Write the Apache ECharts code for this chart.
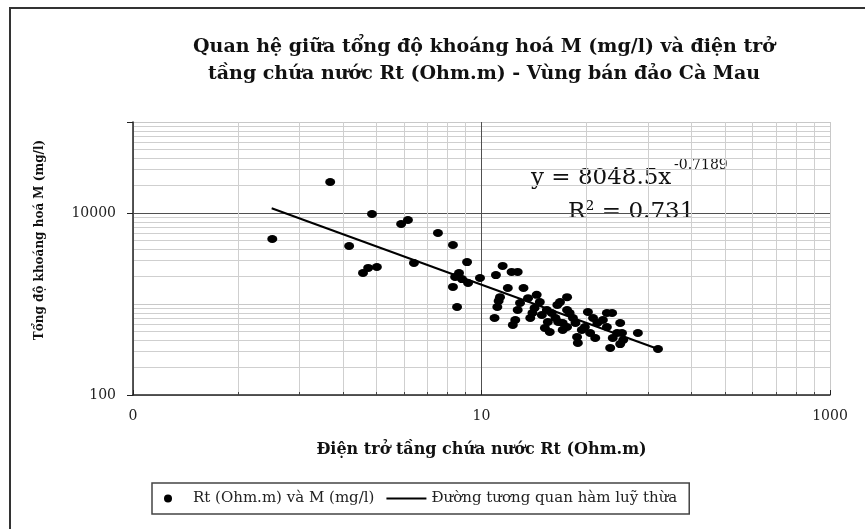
<!DOCTYPE html>
<html>
<head>
<meta charset="utf-8">
<script src="https://cdn.jsdelivr.net/npm/echarts@6/dist/echarts.min.js"></script>
<style>
html,body{margin:0;padding:0;background:#fff}
#chart{width:865px;height:529px}
</style>
</head>
<body>
<div id="chart"></div>
<script>
var titleLines=['Quan hệ giữa tổng độ khoáng hoá M (mg/l) và điện trở','tầng chứa nước Rt (Ohm.m) - Vùng bán đảo Cà Mau'];
var xName='Điện trở tầng chứa nước Rt (Ohm.m)';
var yName='Tổng độ khoáng hoá M (mg/l)';
var seriesNames=['Rt (Ohm.m) và M (mg/l)','Đường tương quan hàm luỹ thừa'];
var xTickValues=[1,10,100];
var xTickLabels=['0','10','1000'];
var yTickValues=[100,10000];
var yTickLabels=['100','10000'];
// Rt (Ohm.m) va M (mg/l), doc tu hinh
var rtValues=[2.51,3.68,4.17,4.57,4.73,5.01,4.85,5.88,6.15,6.40,
	7.50,8.28,9.09,8.62,8.40,8.79,9.15,8.28,8.51,9.90,
	11.0,11.5,12.2,12.7,11.9,13.2,11.3,11.2,11.1,10.9,
	12.7,12.5,12.3,13.6,14.4,14.7,14.2,14.0,14.9,15.4,
	15.9,15.2,15.7,16.5,16.8,16.6,16.3,17.1,17.6,17.6,
	17.9,18.3,17.1,17.6,18.8,18.9,19.4,20.2,20.9,21.5,
	21.2,19.8,22.9,23.7,22.9,23.4,25.0,25.3,25.5,24.5,
	28.1,32.1,23.8,25.0,13.8,12.9,15.5,18.6,20.5,22.3];
var mValues=[5180,21900,4340,2190,2490,2550,9750,7570,8380,2820,
	6030,4450,2890,2190,1980,1880,1700,1540,927,1930,
	2080,2620,2250,2250,1500,1500,1190,1080,927,702,
	859,667,588,1160,1260,1050,904,796,757,859,
	796,545,492,975,1050,634,702,518,1190,859,
	796,702,618,559,434,373,518,817,702,618,
	423,559,796,796,559,329,618,480,402,480,
	480,320,423,363,702,1025,634,618,480,667];
// duong tuong quan: hai dau mut
var trendRt=[2.50,32.1];
var trendM=[11260,320];
var equationText='y = 8048.5x';
var equationExp='-0.7189';
var r2Text='R² = 0.731';

function tickText(v,values,labels){
	for(var i=0;i<values.length;i++){
		if(Math.abs(Math.log(v)-Math.log(values[i]))<1e-6){
			return labels[i];
		}
	}
	return '';
}

var points=[];
for(var i=0;i<rtValues.length;i++){
	points.push([rtValues[i],mValues[i]]);
}
var trend=[];
for(var j=0;j<trendRt.length;j++){
	trend.push([trendRt[j],trendM[j]]);
}

var serif='DejaVu Serif';
var myChart=echarts.init(document.getElementById('chart'));
var option={
	backgroundColor:'#fff',
	animation:false,
	title:{
		text:titleLines.join('\n'),
		left:479,
		top:29,
		textAlign:'center',
		textStyle:{
			fontFamily:serif,
			fontWeight:'bold',
			fontSize:19,
			lineHeight:27,
			color:'#111'
		}
	},
	grid:{left:133,top:122,right:35,bottom:134},
	legend:{
		left:152,
		top:483,
		data:[
			{name:seriesNames[0],icon:'circle'},
			{name:seriesNames[1],icon:'path://M0,0L40,0L40,2L0,2Z'}
		],
		itemWidth:40,
		itemHeight:8,
		itemGap:12,
		padding:[8,12],
		borderColor:'#444',
		borderWidth:1.5,
		textStyle:{fontFamily:serif,fontSize:15,color:'#222'}
	},
	xAxis:{
		type:'log',
		logBase:10,
		min:1,
		max:100,
		name:xName,
		nameLocation:'middle',
		nameGap:47,
		nameTextStyle:{fontFamily:serif,fontWeight:'bold',fontSize:16,color:'#111'},
		axisLine:{lineStyle:{color:'#222',width:1.5}},
		axisTick:{show:true,inside:true,length:5,lineStyle:{color:'#222'}},
		minorTick:{show:true,splitNumber:9,length:3,lineStyle:{color:'#444'}},
		axisLabel:{
			margin:14,
			fontFamily:serif,
			fontSize:14,
			color:'#222',
			formatter:function(v){return tickText(v,xTickValues,xTickLabels);}
		},
		splitLine:{show:true,lineStyle:{color:['#c8c8c8','#505050','#c8c8c8'],width:1}},
		minorSplitLine:{show:true,lineStyle:{color:'#cfcfcf',width:1}}
	},
	yAxis:[
		{
			type:'log',
			logBase:10,
			min:100,
			max:100000,
			axisLine:{lineStyle:{color:'#222',width:1.5}},
			axisTick:{show:false},
			minorTick:{show:false,splitNumber:9},
			axisLabel:{
				margin:17,
				fontFamily:serif,
				fontSize:14,
				color:'#222',
				formatter:function(v){return tickText(v,yTickValues,yTickLabels);}
			},
			splitLine:{show:true,lineStyle:{color:['#c8c8c8','#c8c8c8','#505050','#c8c8c8'],width:1}},
			minorSplitLine:{show:true,lineStyle:{color:'#cfcfcf',width:1}}
		},
		{
			type:'log',
			logBase:10,
			min:100,
			max:100000,
			interval:2,
			position:'left',
			axisLine:{show:false},
			axisTick:{show:true,inside:false,length:6,lineStyle:{color:'#222'}},
			axisLabel:{show:false},
			splitLine:{show:false}
		}
	],
	series:[
		{
			name:seriesNames[0],
			type:'scatter',
			data:points,
			symbol:'circle',
			symbolSize:[10,8],
			itemStyle:{color:'#000',opacity:1},
			z:3
		},
		{
			name:seriesNames[1],
			type:'line',
			data:trend,
			symbol:'none',
			lineStyle:{color:'#000',width:2},
			itemStyle:{color:'#000'},
			z:4
		}
	],
	graphic:[
		{
			type:'rect',
			silent:true,
			z:-1,
			shape:{x:10,y:8,width:900,height:600},
			style:{fill:'none',stroke:'#333',lineWidth:2}
		},
		{
			type:'text',
			silent:true,
			x:40,
			y:240,
			rotation:Math.PI/2,
			style:{text:yName,font:'bold 12px "DejaVu Serif"',fill:'#111',textAlign:'center',textVerticalAlign:'middle'}
		},
		{
			type:'text',
			silent:true,
			x:531,
			y:178,
			style:{text:equationText,font:'23px "DejaVu Serif"',fill:'#111',textAlign:'left',textVerticalAlign:'middle'}
		},
		{
			type:'text',
			silent:true,
			x:674,
			y:165,
			style:{text:equationExp,font:'14px "DejaVu Serif"',fill:'#111',textAlign:'left',textVerticalAlign:'middle'}
		},
		{
			type:'text',
			silent:true,
			x:568,
			y:212,
			style:{text:r2Text,font:'23px "DejaVu Serif"',fill:'#111',textAlign:'left',textVerticalAlign:'middle'}
		}
	]
};
myChart.setOption(option);
</script>
</body>
</html>
